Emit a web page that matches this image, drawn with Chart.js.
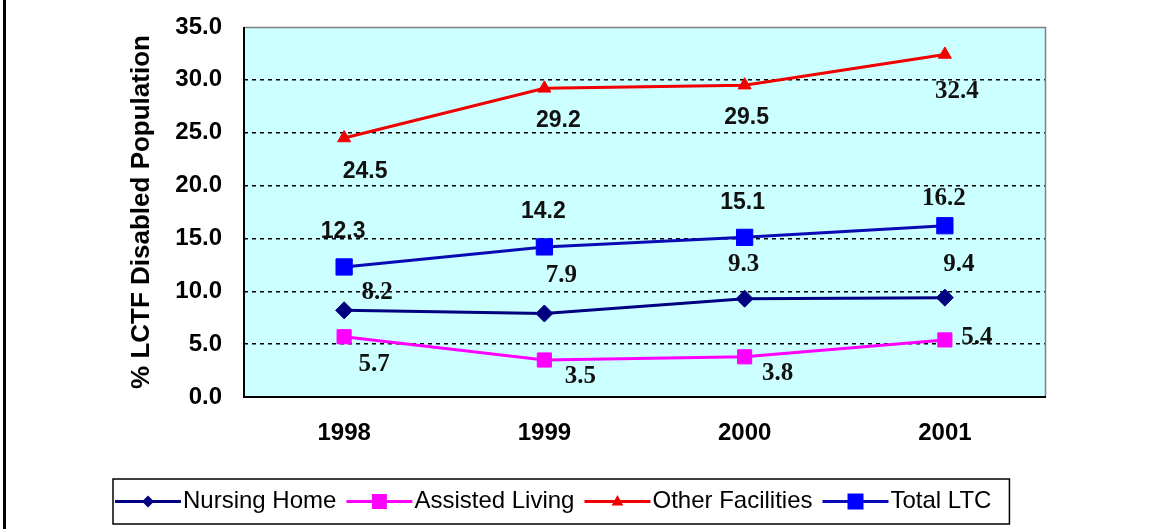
<!DOCTYPE html>
<html>
<head>
<meta charset="utf-8">
<script src="https://cdn.jsdelivr.net/npm/chart.js@4.4.1/dist/chart.umd.min.js"></script>
<style>
  html, body { margin: 0; padding: 0; background: #ffffff; }
  #wrap { width: 1151px; height: 529px; position: relative; }
</style>
</head>
<body>
<div id="wrap"><canvas id="chart" width="1151" height="529"></canvas></div>
<script>
// Share of LCTF disabled population by setting, 1998-2001
const years = ['1998', '1999', '2000', '2001'];
const seriesNames = ['Nursing Home', 'Assisted Living', 'Other Facilities', 'Total LTC'];
const nursingHome = [8.2, 7.9, 9.3, 9.4];
const assistedLiving = [5.7, 3.5, 3.8, 5.4];
const otherFacilities = [24.5, 29.2, 29.5, 32.4];
const totalLTC = [12.3, 14.2, 15.1, 16.2];

// Value-label placement relative to each marker (dx, dy in px)
const labelOffsets = [
  [[33, -18], [17, -38], [-1, -34], [14, -33]],
  [[30, 28], [36, 17], [33, 17], [32, -2]],
  [[21, 34], [14, 32], [2, 33], [12, 37]],
  [[-1, -35], [-1, -35], [-2, -35], [-1, -27]]
];
// Label typeface per point: 's' = sans, 'r' = serif
const labelFaces = [
  ['r', 'r', 'r', 'r'],
  ['r', 'r', 'r', 'r'],
  ['s', 's', 's', 'r'],
  ['s', 's', 's', 'r']
];

const lineColors = ['#000080', '#FF00FF', '#F00000', '#0A0AB4'];
const markerColors = ['#000080', '#FF00FF', '#F00000', '#0000FF'];
const markerStyles = ['rectRot', 'rect', 'triangle', 'rect'];
const markerRadius = [8.5, 10, 7.5, 11.5];

const seriesValues = [nursingHome, assistedLiving, otherFacilities, totalLTC];

const datasets = seriesValues.map((vals, i) => ({
  label: seriesNames[i],
  data: vals,
  borderColor: lineColors[i],
  backgroundColor: markerColors[i],
  pointBackgroundColor: markerColors[i],
  pointBorderColor: markerColors[i],
  pointBorderWidth: 1,
  pointStyle: markerStyles[i],
  pointRadius: markerRadius[i],
  pointHoverRadius: markerRadius[i],
  borderWidth: 3,
  tension: 0,
  fill: false
}));

// Light cyan plot background and plot-area frame
const plotFrame = {
  id: 'plotFrame',
  beforeDraw(chart) {
    const { ctx, chartArea: a } = chart;
    ctx.save();
    ctx.fillStyle = '#CCFFFF';
    ctx.fillRect(a.left, a.top, a.right - a.left, a.bottom - a.top);
    ctx.restore();
  },
  beforeDatasetsDraw(chart) {
    const { ctx, chartArea: a } = chart;
    ctx.save();
    ctx.lineWidth = 1.5;
    ctx.strokeStyle = '#808080';
    ctx.beginPath();
    ctx.moveTo(a.left, a.top + 0.5);
    ctx.lineTo(a.right + 0.5, a.top + 0.5);
    ctx.lineTo(a.right + 0.5, a.bottom);
    ctx.stroke();
    ctx.strokeStyle = '#000000';
    ctx.lineWidth = 2;
    ctx.beginPath();
    ctx.moveTo(a.left, a.top);
    ctx.lineTo(a.left, a.bottom);
    ctx.lineTo(a.right + 1, a.bottom);
    ctx.stroke();
    // outer frame edge on the left of the canvas
    ctx.lineWidth = 3;
    ctx.beginPath();
    ctx.moveTo(4.5, 0);
    ctx.lineTo(4.5, chart.height);
    ctx.stroke();
    ctx.restore();
  }
};

// Value labels next to each marker
const valueLabels = {
  id: 'valueLabels',
  afterDatasetsDraw(chart) {
    const { ctx } = chart;
    ctx.save();
    ctx.fillStyle = '#111111';
    ctx.textAlign = 'center';
    ctx.textBaseline = 'middle';
    chart.data.datasets.forEach((ds, i) => {
      const meta = chart.getDatasetMeta(i);
      meta.data.forEach((pt, j) => {
        const face = labelFaces[i][j];
        ctx.font = face === 's'
          ? 'bold 23px "Liberation Sans", Arial, sans-serif'
          : 'bold 25px "Liberation Serif", "Times New Roman", serif';
        const off = labelOffsets[i][j];
        ctx.fillText(ds.data[j].toFixed(1), pt.x + off[0], pt.y + off[1]);
      });
    });
    ctx.restore();
  }
};

function drawMarker(ctx, style, x, y, r, color) {
  ctx.fillStyle = color;
  ctx.beginPath();
  if (style === 'rectRot') {
    ctx.moveTo(x, y - r); ctx.lineTo(x + r, y); ctx.lineTo(x, y + r); ctx.lineTo(x - r, y);
  } else if (style === 'triangle') {
    ctx.moveTo(x, y - r); ctx.lineTo(x + r * 0.9, y + r * 0.6); ctx.lineTo(x - r * 0.9, y + r * 0.6);
  } else {
    ctx.rect(x - r, y - r, 2 * r, 2 * r);
  }
  ctx.closePath();
  ctx.fill();
}

// Boxed legend with line + marker swatches along the bottom
const boxLegend = {
  id: 'boxLegend',
  afterDraw(chart) {
    const { ctx } = chart;
    const box = { x: 113, y: 479, h: 45 };
    const lineLen = 66, textGap = 2, itemGap = 10;
    const swatchR = [6, 7.5, 6.5, 8];
    ctx.save();
    ctx.font = '24px "Liberation Sans", Arial, sans-serif';
    ctx.textBaseline = 'middle';
    ctx.textAlign = 'left';
    const cy = box.y + box.h / 2;
    let x = box.x + 2;
    chart.data.datasets.forEach((ds, i) => {
      ctx.strokeStyle = ds.borderColor;
      ctx.lineWidth = 3;
      ctx.beginPath();
      ctx.moveTo(x, cy);
      ctx.lineTo(x + lineLen, cy);
      ctx.stroke();
      drawMarker(ctx, ds.pointStyle, x + lineLen / 2, cy, swatchR[i], ds.pointBackgroundColor);
      x += lineLen + textGap;
      ctx.fillStyle = '#000000';
      ctx.fillText(ds.label, x, cy);
      x += ctx.measureText(ds.label).width + itemGap;
    });
    const w = x - box.x + 8;
    ctx.strokeStyle = '#000000';
    ctx.lineWidth = 1.5;
    ctx.strokeRect(box.x, box.y, w, box.h);
    ctx.restore();
  }
};

new Chart(document.getElementById('chart'), {
  type: 'line',
  data: { labels: years, datasets },
  plugins: [plotFrame, valueLabels, boxLegend],
  options: {
    responsive: false,
    devicePixelRatio: 1,
    animation: false,
    events: [],
    layout: { padding: { left: 0, top: 27, right: 106, bottom: 0 } },
    plugins: {
      legend: { display: false },
      tooltip: { enabled: false }
    },
    scales: {
      x: {
        type: 'category',
        offset: true,
        grid: { display: false, drawTicks: false },
        border: { display: false },
        ticks: {
          color: '#000000',
          padding: 22,
          font: { family: '"Liberation Sans", Arial, sans-serif', size: 24, weight: 'bold' }
        },
        afterFit(scale) { scale.height = 132; }
      },
      y: {
        min: 0,
        max: 35,
        border: { display: false, dash: [4, 4] },
        grid: {
          drawTicks: false,
          lineWidth: 1.5,
          color: (c) => (c.tick && (c.tick.value === 0 || c.tick.value === 35)) ? 'rgba(0,0,0,0)' : '#000000'
        },
        ticks: {
          stepSize: 5,
          color: '#000000',
          padding: 22,
          font: { family: '"Liberation Sans", Arial, sans-serif', size: 24, weight: 'bold' },
          callback: (v) => Number(v).toFixed(1)
        },
        title: {
          display: true,
          text: '% LCTF Disabled Population',
          color: '#000000',
          padding: { top: 126, bottom: 0 },
          font: { family: '"Liberation Sans", Arial, sans-serif', size: 26, weight: 'bold' }
        },
        afterFit(scale) {
          scale.width = 244;
          scale.paddingTop = 0;
          scale.paddingBottom = 0;
        }
      }
    }
  }
});
</script>
</body>
</html>
